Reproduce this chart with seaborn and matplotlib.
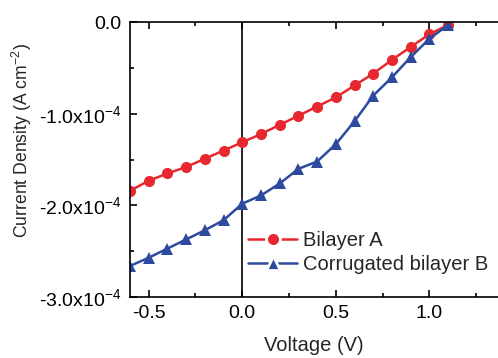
import numpy as np
import pandas as pd
import matplotlib
matplotlib.use("Agg")
import matplotlib.pyplot as plt
from matplotlib.ticker import FuncFormatter, MultipleLocator
import seaborn as sns

# J-V data (current density in units of 1e-4 A cm^-2)
voltage = [-0.6, -0.5, -0.4, -0.3, -0.2, -0.1, 0.0, 0.1, 0.2, 0.3, 0.4, 0.5,
           0.6, 0.7, 0.8, 0.9, 1.0, 1.1]
bilayer_a = [-1.84, -1.73, -1.65, -1.58, -1.49, -1.40, -1.31, -1.22, -1.12, -1.02,
             -0.92, -0.82, -0.69, -0.56, -0.41, -0.27, -0.13, -0.03]
corrugated_b = [-2.66, -2.57, -2.47, -2.37, -2.27, -2.16, -1.98, -1.89, -1.76, -1.60,
                -1.52, -1.33, -1.08, -0.80, -0.60, -0.38, -0.18, -0.03]
labels = ["Bilayer A", "Corrugated bilayer B"]
colors = ["#e8282f", "#2e4a9e"]

df = pd.DataFrame({
    "Voltage": voltage * 2,
    "J": [v * 1e-4 for v in bilayer_a + corrugated_b],
    "Sample": [labels[0]] * len(voltage) + [labels[1]] * len(voltage),
})

sns.set_style("ticks")
plt.rcParams["font.family"] = ["Liberation Sans", "DejaVu Sans"]
plt.rcParams["mathtext.fontset"] = "custom"
plt.rcParams["mathtext.rm"] = "Liberation Sans"
plt.rcParams["mathtext.it"] = "Liberation Sans"

fig = plt.figure(figsize=(4.98, 3.58), dpi=100)
ax = fig.add_axes([0.261, 0.170, 0.739, 0.768])

sns.lineplot(data=df, x="Voltage", y="J", hue="Sample", style="Sample",
             palette=colors, markers=["o", "^"], dashes=False,
             markersize=8, linewidth=1.8, markeredgewidth=0, ax=ax)

ax.axvline(0, color="black", linewidth=1.2, zorder=0)

ax.set_xlim(-0.6, 1.366)
ax.set_ylim(-3.0e-4, 0.0)
ax.xaxis.set_major_locator(MultipleLocator(0.5))
ax.xaxis.set_minor_locator(MultipleLocator(0.25))
ax.yaxis.set_major_locator(MultipleLocator(1e-4))
ax.yaxis.set_minor_locator(MultipleLocator(0.5e-4))


def fmt_y(v, pos):
    if abs(v) < 1e-12:
        return "0.0"
    return "%.1fx10$^{-4}$" % (v * 1e4)


ax.yaxis.set_major_formatter(FuncFormatter(fmt_y))
ax.xaxis.set_major_formatter(FuncFormatter(lambda v, p: "%.1f" % v))

ax.tick_params(which="both", direction="in", top=True, right=False,
               labelsize=14, width=1.2, colors="black")
ax.tick_params(which="major", length=5, pad=6)
ax.tick_params(which="minor", length=3)
ax.spines["right"].set_visible(False)
for s in ["left", "top", "bottom"]:
    ax.spines[s].set_linewidth(1.2)
    ax.spines[s].set_color("black")

ax.set_xlabel("Voltage (V)", fontsize=14.5, labelpad=10)
ax.set_ylabel("Current Density (A cm$^{-2}$)", fontsize=12.7)
ax.yaxis.set_label_coords(-0.262, 0.57)

leg = ax.legend(frameon=False, fontsize=14.5, loc="lower left",
                bbox_to_anchor=(0.30, 0.055), handlelength=2.4, handletextpad=0.3,
                labelspacing=0.25, borderaxespad=0)
# white edge around legend markers gives the broken-line look of the original
for ln in leg.get_lines():
    ln.set_markeredgecolor("white")
    ln.set_markeredgewidth(2)
    ln.set_markersize(10)

fig.savefig("out.png", dpi=100)
